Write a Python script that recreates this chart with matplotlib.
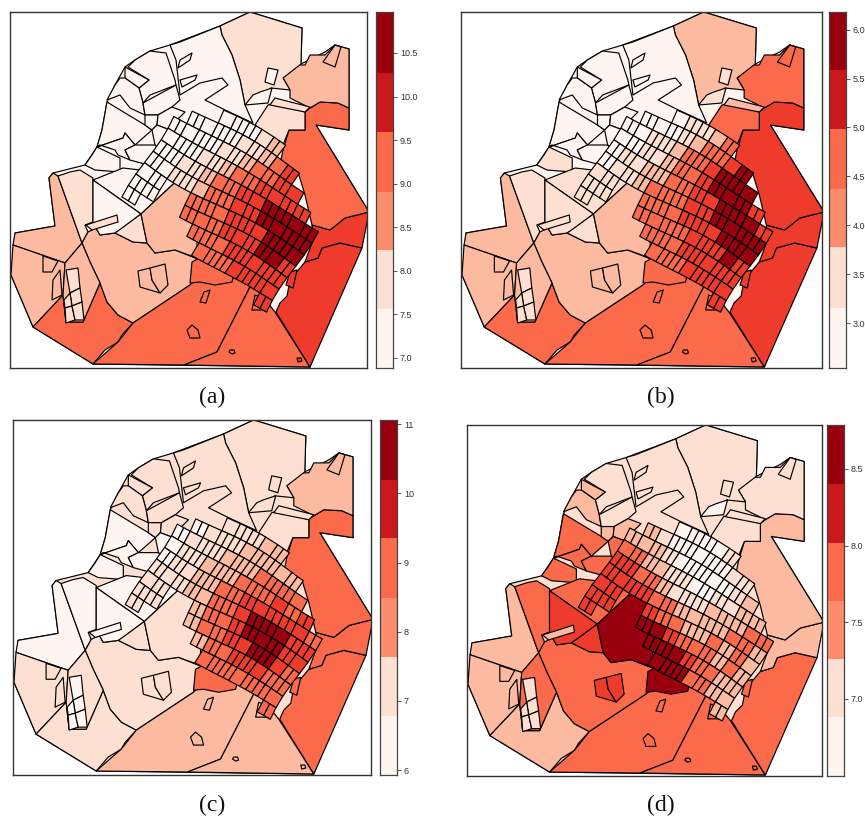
import numpy as np
import matplotlib
matplotlib.use("Agg")
import matplotlib.pyplot as plt
from matplotlib.collections import PolyCollection

W, H = 865, 818
MAP_COLORS = ["#fff5f0", "#fee0d2", "#fcbba1", "#fb6a4a", "#ef3b2c", "#99000d"]
BAR_COLORS = ["#fff5f0", "#fee0d2", "#fc8d6c", "#fb6a4a", "#cb181d", "#99000d"]

ZONES = [
 ([(11,275),(15,233),(55,226),(49,178),(53,173),(85,165),(97,147),(102,130),(107,102),(115,85),(125,67),(135,60),(150,51),(170,45),(220,26),(250,12),(302,28),(301,64),(325,52),(335,45),(349,49),(349,130),(316,125),(369,212),(310,367),(93,364),(33,327)],(0,0,1,1)),
 ([(15,233),(55,226),(49,178),(53,173),(58,176),(82,243),(65,263),(13,245)],(2,2,0,2)),
 ([(13,245),(65,263),(63,295),(33,327),(11,275)],(2,2,1,2)),
 ([(33,327),(63,295),(66,322),(83,322),(100,283),(107,302),(118,315),(133,323),(122,335),(118,342),(105,350),(93,364)],(3,3,1,2)),
 ([(58,176),(70,172),(80,170),(93,178),(93,222),(85,225),(88,232),(82,243)],(1,1,0,3)),
 ([(88,232),(96,228),(100,235),(115,233),(133,242),(147,243),(155,253),(175,250),(195,258),(205,262),(195,283),(190,285),(133,323),(118,315),(107,302),(100,283),(90,262),(82,243)],(2,2,1,3)),
 ([(82,243),(90,262),(100,283),(83,322),(66,322),(63,295),(65,263)],(2,2,1,3)),
 ([(93,364),(118,342),(133,323),(190,285),(200,275),(200,258),(220,272),(228,278),(240,275),(252,283),(217,352),(184,365)],(3,3,2,3)),
 ([(184,365),(217,352),(252,283),(275,312),(310,367)],(3,3,2,3)),
 ([(310,367),(276,312),(280,303),(287,296),(290,280),(305,262),(318,258),(322,248),(340,243),(362,248)],(4,4,3,3)),
 ([(312,225),(330,230),(345,218),(369,212),(362,248),(340,243),(322,248),(318,258),(305,262),(313,240)],(4,4,3,2)),
 ([(369,212),(316,125),(349,130),(349,108),(338,103),(320,102),(310,108),(305,112),(305,130),(289,130),(283,150),(280,165),(293,175),(298,172),(305,195),(312,225),(330,230),(345,218)],(3,4,3,2)),
 ([(283,78),(295,65),(305,65),(310,55),(325,55),(335,45),(349,49),(349,108),(338,103),(320,102),(310,108),(290,98),(290,90)],(2,3,2,1)),
 ([(220,26),(250,12),(302,28),(301,64),(283,78),(290,90),(271,88),(265,100),(254,100),(245,105),(240,80),(232,55),(222,35)],(1,2,1,1)),
 ([(170,45),(180,42),(220,26),(222,35),(232,55),(240,80),(245,105),(253,123),(225,110),(205,100),(228,85),(222,78),(200,83),(180,95),(176,60)],(0,0,1,1)),
 ([(277,102),(305,112),(305,130),(289,130),(283,145),(255,125),(268,105)],(1,3,1,1)),
 ([(275,98),(310,107),(305,112),(270,105)],(1,2,1,1)),
 ([(323,62),(335,45),(341,47),(335,67)],(2,3,2,1)),
 ([(268,68),(278,70),(274,85),(265,82)],(0,1,1,1)),
 ([(253,95),(260,92),(272,88),(268,103),(245,105)],(0,1,1,0)),
 ([(135,60),(150,51),(166,53),(175,80),(176,85),(150,95),(143,103),(139,88),(149,80),(128,67)],(0,0,1,1)),
 ([(125,67),(149,80),(139,88),(125,78)],(0,0,1,2)),
 ([(107,100),(115,85),(120,78),(125,78),(139,88),(143,103),(145,115),(130,108),(120,95)],(0,0,1,2)),
 ([(107,102),(145,125),(152,130),(135,145),(125,133),(123,138),(97,147),(102,130)],(0,0,0,3)),
 ([(97,147),(123,138),(125,133),(135,145),(125,150),(130,160),(118,155),(115,150),(100,145)],(0,0,0,3)),
 ([(85,165),(92,155),(97,147),(120,158),(120,172),(95,170)],(0,1,0,3)),
 ([(143,103),(176,85),(180,100),(172,107),(158,115),(145,115)],(0,0,1,1)),
 ([(145,115),(158,115),(157,125),(152,130),(145,125)],(0,0,1,2)),
 ([(158,115),(172,107),(185,112),(175,122),(170,130),(157,125)],(0,0,1,2)),
 ([(152,130),(157,125),(170,130),(172,145),(160,150),(155,145)],(0,0,0,3)),
 ([(155,145),(160,150),(155,165),(148,165),(130,160),(125,150),(135,145)],(0,0,0,3)),
 ([(93,180),(123,168),(183,175),(141,214)],(0,1,0,3)),
 ([(93,180),(141,214),(120,230),(115,233),(100,235),(96,228),(93,222)],(0,1,0,4)),
 ([(141,214),(147,243),(133,242),(115,233),(122,228)],(1,1,1,4)),
 ([(141,214),(183,175),(197,188),(197,258),(175,250),(155,253),(147,243)],(2,2,1,5)),
 ([(192,262),(205,255),(235,270),(232,282),(215,285),(200,282),(190,283)],(3,3,3,5)),
 ([(86,225),(117,215),(118,222),(92,230)],(1,1,0,2)),
 ([(138,271),(150,268),(152,280),(160,293),(140,287)],(2,2,1,4)),
 ([(150,268),(165,264),(168,285),(160,293),(152,280)],(2,2,1,4)),
 ([(43,256),(58,261),(52,272),(43,272)],(2,2,1,2)),
 ([(53,280),(60,270),(62,295),(52,300)],(2,2,1,2)),
 ([(66,270),(78,268),(80,288),(70,293)],(1,1,0,1)),
 ([(70,293),(80,288),(82,302),(72,306)],(1,1,0,1)),
 ([(64,300),(70,293),(72,306),(65,308)],(1,1,0,1)),
 ([(65,308),(72,306),(75,320),(66,323)],(1,1,0,1)),
 ([(72,306),(82,302),(84,320),(75,320)],(1,1,0,1)),
 ([(180,60),(192,53),(190,60),(178,68)],(0,0,1,1)),
 ([(180,80),(197,75),(195,80),(182,87)],(0,0,1,1)),
 ([(204,292),(210,290),(206,303),(200,302)],(3,3,2,3)),
 ([(192,325),(198,330),(200,338),(190,338),(187,330)],(3,3,2,3)),
 ([(255,295),(262,298),(265,310),(252,310)],(3,3,2,3)),
 ([(290,272),(297,270),(293,288),(286,285)],(4,4,3,3)),
 ([(230,350),(234,350),(235,353),(232,354),(229,352)],(3,3,2,3)),
 ([(297,358),(301,358),(302,361),(298,362)],(4,3,2,3)),
]

# street-block classes read per panel, rows run across the dense part of the city
BLOCKS_A = ["...00012.....",".000011234...","00001123344..","000112334444.","0011233445555",
            "0011233445555","00..333444555","00..333444554","0....33344444","......3334444","............4"]
BLOCKS_B = ["...01123.....",".000123345...","00112334555..","001123345554.","0112233445554",
            "0112333445555","11..333444555","11..333344454","1....33344444","......3334444","............4"]
BLOCKS_C = ["...11122.....",".011122222...","01112223333..","011222333434.","0112233444443",
            "1112233455544","11..233455544","11..233445543","1....23344433","......3333333","............3"]
BLOCKS_D = ["...00001.....",".210000011...","22210000012..","332211001122.","4433211122233",
            "4444332222332","44..433223232","44..554333232","4....55543322","......5553322","............2"]
BLOCK_U = [-70,-56,-42,-28,-14,0,14,28,42,56,70,84,98]
BLOCK_V = [-70,-56,-42,-28,-14,0,14,28,42,56,70]

# colour bars: value limits, class breaks, ticks, tick labels
LIMITS = [(6.885,10.97),(2.54,6.18),(5.93,11.06),(6.498,8.786)]
BREAKS = [[7.56,8.24,8.91,9.59,10.27],[3.15,3.78,4.37,4.98,5.59],[6.78,7.64,8.49,9.36,10.2],[6.88,7.26,7.64,8.02,8.40]]
TICKS = [[7,7.5,8,8.5,9,9.5,10,10.5],[3,3.5,4,4.5,5,5.5,6],[6,7,8,9,10,11],[7,7.5,8,8.5]]
TICK_LABELS = [["7.0","7.5","8.0","8.5","9.0","9.5","10.0","10.5"],["3.0","3.5","4.0","4.5","5.0","5.5","6.0"],
               ["6","7","8","9","10","11"],["7.0","7.5","8.0","8.5"]]
CAPTIONS = ["(a)","(b)","(c)","(d)"]

MAP_BOX = [(10,12,367,368),(461,12,822,368),(13,420,371,775),(467,425,822,776)]
BAR_BOX = [(376,12,393,368),(829,12,846,368),(380,420,397,775),(827,425,844,776)]
CAP_XY = [(212,397),(661,397),(212,805),(661,805)]
BLOCK_TABLES = [BLOCKS_A,BLOCKS_B,BLOCKS_C,BLOCKS_D]

def px_axes(fig, box):
    x0,y0,x1,y1 = box
    return fig.add_axes([x0/W, 1-y1/H, (x1-x0)/W, (y1-y0)/H])

def bend(x, y):
    # streets are not ruled lines: bend the block lattice a little
    return x + 2.5*np.sin(y/17.0), y + 2.5*np.sin(x/23.0)

def block_polys(table):
    ux, uy = 0.866, 0.5
    vx, vy = -0.5, 0.866
    polys, cls = [], []
    for r, row in enumerate(table):
        for c, ch in enumerate(row):
            if ch == ".":
                continue
            u0, v0 = BLOCK_U[c], BLOCK_V[r]
            parts = ((-7,7),) if (r+c) % 3 == 0 else ((-7,0),(0,7))
            for a, b in parts:
                corners = [(a,-7),(b,-7),(b,7),(a,7)]
                polys.append([bend(215+(u0+p)*ux+(v0+q)*vx, 195+(u0+p)*uy+(v0+q)*vy) for p,q in corners])
                cls.append(int(ch))
    return polys, cls

fig = plt.figure(figsize=(W/100,H/100), dpi=100, facecolor="white")
for i in range(4):
    ax = px_axes(fig, MAP_BOX[i])
    polys = [z[0] for z in ZONES]
    cls = [z[1][i] for z in ZONES]
    bp, bc = block_polys(BLOCK_TABLES[i])
    polys = polys + bp
    cls = cls + bc
    ax.add_collection(PolyCollection(polys, facecolors=[MAP_COLORS[k] for k in cls],
                                     edgecolors="black", linewidths=0.85))
    ax.set_xlim(10,367); ax.set_ylim(368,12)
    ax.set_xticks([]); ax.set_yticks([])
    for s in ax.spines.values():
        s.set_color("#333333"); s.set_linewidth(1.0)

    cax = px_axes(fig, BAR_BOX[i])
    lo, hi = LIMITS[i]
    edges = [lo]+BREAKS[i]+[hi]
    for k in range(6):
        cax.axhspan(edges[k], edges[k+1], color=BAR_COLORS[k], lw=0)
    cax.set_ylim(lo,hi); cax.set_xlim(0,1); cax.set_xticks([])
    cax.yaxis.tick_right()
    cax.set_yticks(TICKS[i])
    cax.set_yticklabels(TICK_LABELS[i], fontsize=6.5, family="Liberation Sans", color="#333333")
    cax.tick_params(axis="y", length=3, width=0.7, color="#555555", pad=2)
    for s in cax.spines.values():
        s.set_color("#444444"); s.set_linewidth(0.9)
    fig.text(CAP_XY[i][0]/W, 1-CAP_XY[i][1]/H, CAPTIONS[i], ha="center", va="center",
             family="Liberation Serif", fontsize=17, color="#111111")

fig.savefig("out.png", dpi=100)
